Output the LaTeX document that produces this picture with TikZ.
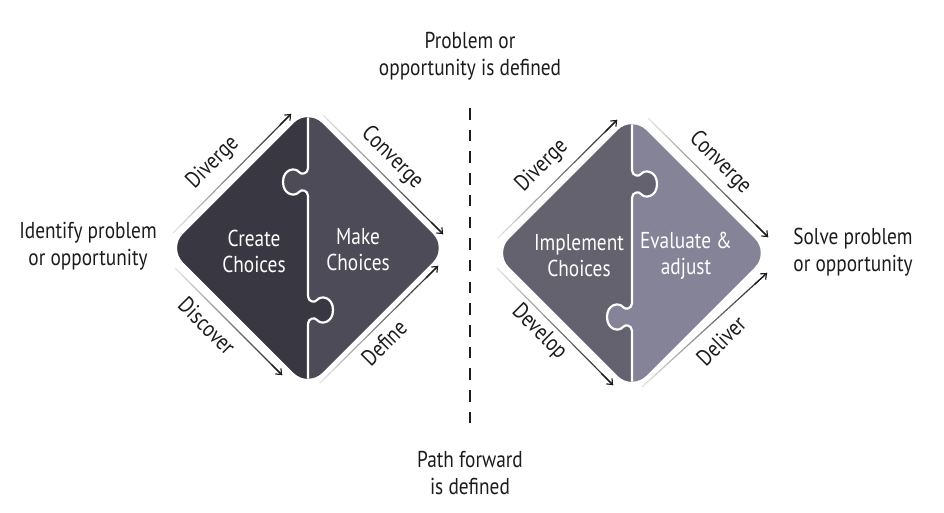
\documentclass[tikz,border=0pt]{standalone}
\usepackage{fontspec}
\setmainfont{PT Sans}[FakeStretch=0.84]
\usetikzlibrary{arrows.meta,calc}
\definecolor{dA}{HTML}{393842}
\definecolor{dB}{HTML}{4C4B57}
\definecolor{dC}{HTML}{64626F}
\definecolor{dD}{HTML}{858398}
\definecolor{ink}{HTML}{1C1C1C}
\definecolor{faint}{HTML}{E2E2E2}
\tikzset{
  lbl/.style={font=\fontsize{23}{27}\selectfont, text=ink, align=center, inner sep=0pt},
  inlbl/.style={font=\fontsize{23}{26}\selectfont, text=white, align=center, inner sep=0pt},
  arlbl/.style={font=\fontsize{23}{26}\selectfont, text=ink, inner sep=0pt},
  gap/.style={draw=white, line width=2.2pt},
  arline/.style={line width=1.2pt},
  divider/.style={draw=ink, line width=2pt, dash pattern=on 11.5pt off 10.2pt},
  knob/.style 2 args={insert path={
    -- (0,#1-14) .. controls (0,#1-8) and ({-7*#2},#1-7) .. ({-9*#2},#1-10)
    .. controls ({-13*#2},#1-15) and ({-25*#2},#1-13) .. ({-25*#2},#1)
    .. controls ({-25*#2},#1+13) and ({-13*#2},#1+15) .. ({-9*#2},#1+10)
    .. controls ({-7*#2},#1+7) and (0,#1+8) .. (0,#1+14)}},
}
\newcommand\fadearrow[2]{%
  \foreach \i in {0,...,29}{%
    \pgfmathtruncatemacro\pc{round(100*\i/29)}%
    \draw[arline, draw=ink!\pc!faint] ($(#1)!{\i/30}!(#2)$) -- ($(#1)!{(\i+1)/30}!(#2)$);
  }%
  \draw[arline, draw=ink, -{Straight Barb[length=4.5pt,width=8pt]}] ($(#1)!0.9!(#2)$) -- (#2);
}
\begin{document}
\begin{tikzpicture}[x=1pt,y=-1pt]
\useasboundingbox (0,0) rectangle (944,512);

% left diamond
\begin{scope}[shift={(308,248)}]
  \begin{scope}
    \clip[rounded corners=20pt] (0,-139) -- (139,0) -- (0,139) -- (-139,0) -- cycle;
    \fill[dB] (-150,-150) rectangle (150,150);
    \fill[dA] (-150,-150) -- (0,-150) [knob={-66}{1}] [knob={62}{-1}] -- (0,150) -- (-150,150) -- cycle;
    \draw[gap] (0,-150) [knob={-66}{1}] [knob={62}{-1}] -- (0,150);
  \end{scope}
\end{scope}

% right diamond
\begin{scope}[shift={(632,253)}]
  \begin{scope}
    \clip[rounded corners=20pt] (0,-137) -- (137,0) -- (0,137) -- (-137,0) -- cycle;
    \fill[dD] (-150,-150) rectangle (150,150);
    \fill[dC] (-150,-150) -- (0,-150) [knob={-69}{-1}] [knob={64}{1}] -- (0,150) -- (-150,150) -- cycle;
    \draw[gap] (0,-150) [knob={-69}{-1}] [knob={64}{1}] -- (0,150);
  \end{scope}
\end{scope}

% inner labels
\node[inlbl] (create) at (254,251) {Create\\Choices};
\node[inlbl] (make) at (358,250) {Make\\Choices};
\node[inlbl] (impl) at (579,256) {Implement\\Choices};
\node[inlbl] (eval) at (686,256) {Evaluate \&\\adjust};

% outer labels
\node[lbl] (probdef) at (470,56) {Problem or\\opportunity is defined};
\node[lbl] (pathdef) at (470,473) {Path forward\\is defined};
\node[lbl] (ident) at (88,246) {Identify problem\\or opportunity};
\node[lbl] (solve) at (853,252) {Solve problem\\or opportunity};

% divider
\coordinate (dtop) at (470,108);
\coordinate (dbot) at (470,424);
\draw[divider] (dtop) -- (dbot);

% arrows, left diamond
\coordinate (a1s) at (173,233); \coordinate (a1e) at (291,114);
\coordinate (a2s) at (323,115); \coordinate (a2e) at (443,234);
\coordinate (a3s) at (175,268); \coordinate (a3e) at (282,375);
\coordinate (a4s) at (320,383); \coordinate (a4e) at (438,266);
\fadearrow{a1s}{a1e}
\fadearrow{a2s}{a2e}
\fadearrow{a3s}{a3e}
\fadearrow{a4s}{a4e}
\node[arlbl, rotate=45] (div1) at (213,163) {Diverge};
\node[arlbl, rotate=-45] (con1) at (392,158) {Converge};
\node[arlbl, rotate=-45] (dis1) at (207,326) {Discover};
\node[arlbl, rotate=45] (def1) at (384,343) {Define};

% arrows, right diamond
\coordinate (b1s) at (498,238); \coordinate (b1e) at (617,120);
\coordinate (b2s) at (648,118); \coordinate (b2e) at (768,237);
\coordinate (b3s) at (497,268); \coordinate (b3e) at (613,385);
\coordinate (b4s) at (642,387); \coordinate (b4e) at (767,273);
\fadearrow{b1s}{b1e}
\fadearrow{b2s}{b2e}
\fadearrow{b3s}{b3e}
\fadearrow{b4s}{b4e}
\node[arlbl, rotate=45] (div2) at (542,166) {Diverge};
\node[arlbl, rotate=-45] (con2) at (720,163) {Converge};
\node[arlbl, rotate=-45] (dev2) at (539,332) {Develop};
\node[arlbl, rotate=45] (del2) at (721,341) {Deliver};
\end{tikzpicture}
\end{document}
